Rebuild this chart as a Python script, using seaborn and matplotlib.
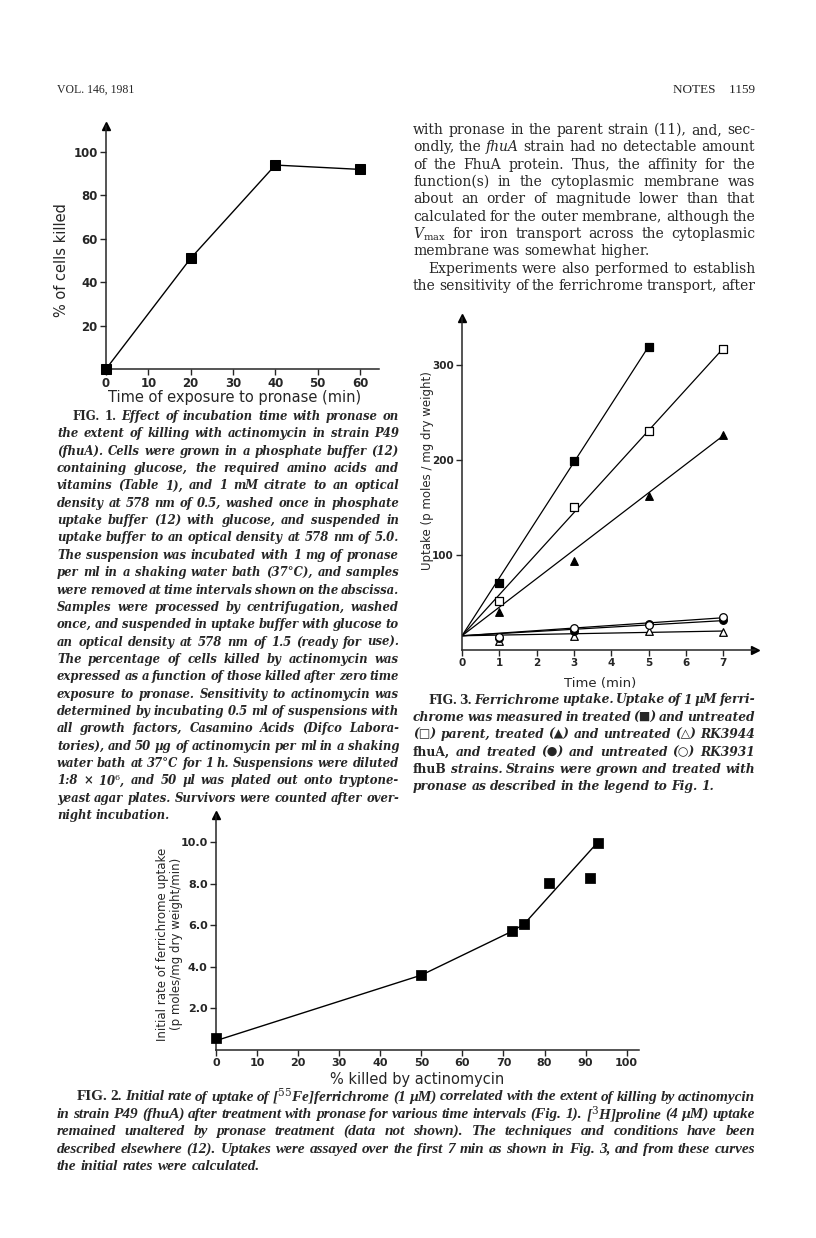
import numpy as np
import pandas as pd
import matplotlib
matplotlib.use("Agg")
import matplotlib.pyplot as plt
import seaborn as sns
from matplotlib.ticker import FormatStrFormatter

# ---- data ----
# Fig. 1
fig1_time = [0, 20, 40, 60]
fig1_killed = [0, 51, 94, 92]

# Fig. 3 (uptake, p moles/mg dry weight)
fig3_time = [1, 3, 5, 7]
parent_treated = [71, 199, 319, np.nan]
parent_untreated = [52, 151, 231, 317]
rk3944_treated = [40, 94, 162, 227]
rk3944_untreated = [10, 15, 20, 19]
rk3931_treated = [13, 20, 27, 32]
rk3931_untreated = [14, 23, 26, 35]
fit_intercept = 15
fit_end_time = [5, 7, 7, 7, 7, 7]
fit_end_value = [320, 318, 226, 20, 31, 34]

# Fig. 2
fig2_killed = [0, 50, 72, 75, 81, 91, 93]
fig2_rate = [0.6, 3.6, 5.7, 6.05, 8.05, 8.25, 9.95]
fig2_curve_x = [0, 50, 72, 75, 93]
fig2_curve_y = [0.45, 3.6, 5.7, 6.05, 10.0]

W, H = 816, 1238
LEFT_COL = (57, 399)
RIGHT_COL = (413, 755)
LINE = 17.35

sns.set_style("ticks")
plt.rcParams['font.family'] = ['DejaVu Sans']
plt.rcParams['mathtext.fontset'] = 'dejavuserif'

fig = plt.figure(figsize=(W / 100, H / 100), dpi=100)
renderer = fig.canvas.get_renderer()


def add_axes(x0, x1, y_top, y_bot):
    return fig.add_axes([x0 / W, 1 - y_bot / H, (x1 - x0) / W, (y_bot - y_top) / H])


def style_axes(ax, size, xarrow=False):
    sns.despine(ax=ax)
    ax.set_facecolor('none')
    for s in ['left', 'bottom']:
        ax.spines[s].set_linewidth(1.1)
    ax.tick_params(direction='out', length=4, width=1.0, labelsize=size, pad=2)
    plt.setp(ax.get_xticklabels() + ax.get_yticklabels(), fontweight='bold')
    # arrow heads on the axes
    ax.plot(0, 1, marker='^', color='k', markersize=6, transform=ax.get_xaxis_transform(), clip_on=False)
    if xarrow:
        ax.plot(1, 0, marker='>', color='k', markersize=6, transform=ax.get_yaxis_transform(), clip_on=False)


def text_block(lines, x0, x1, y0, dy, size, family, style='normal', weight='normal',
               roman_first=0, indent=None, ragged=()):
    """Justified block of text, one fig.text per word."""
    indent = indent or {}
    rows = []
    for i, line in enumerate(lines):
        row = []
        for j, w in enumerate(line.split(' ')):
            st = style
            if i == 0 and j < roman_first:
                st = 'normal'
            if w.startswith('*'):
                w = w[1:]
                st = 'italic' if st == 'normal' else 'normal'
            row.append(fig.text(0, 1 - (y0 + i * dy) / H, w, fontsize=size, family=family,
                                style=st, weight=weight, va='center', ha='left'))
        rows.append(row)

    def widths(row):
        return [t.get_window_extent(renderer).width for t in row]

    em = size * 100 / 72
    need = max(sum(widths(rows[i])) + 0.22 * em * (len(rows[i]) - 1) + indent.get(i, 0)
               for i in range(len(rows)) if i not in ragged)
    scale = min(1.0, (x1 - x0) / need)
    for row in rows:
        for t in row:
            t.set_fontsize(size * scale)
    em = size * scale * 100 / 72
    for i, row in enumerate(rows):
        ws = widths(row)
        start = x0 + indent.get(i, 0)
        if i in ragged or len(row) == 1:
            gap = 0.3 * em
        else:
            gap = (x1 - start - sum(ws)) / (len(row) - 1)
        x = start
        for t, w in zip(row, ws):
            t.set_x(x / W)
            x += w + gap


# ---- page header ----
fig.text(LEFT_COL[0] / W, 1 - 90 / H, "VOL. 146, 1981", family='Liberation Serif', fontsize=8.5, va='center')
fig.text(RIGHT_COL[1] / W, 1 - 90 / H, "NOTES    1159", family='Liberation Serif', fontsize=9.5,
         va='center', ha='right')

# ---- Fig. 1 ----
ax1 = add_axes(106, 379, 126, 369)
sns.lineplot(x=fig1_time, y=fig1_killed, ax=ax1, color='k', linewidth=1.0, marker='s',
             markersize=7.5, markeredgecolor='k', clip_on=False, zorder=3)
ax1.set_xlim(0, 64.5)
ax1.set_ylim(0, 112)
ax1.set_xticks(range(0, 61, 10))
ax1.set_yticks(range(20, 101, 20))
style_axes(ax1, 8.5)
ax1.set_xlabel("Time of exposure to pronase (min)", fontsize=10.5)
ax1.set_ylabel("% of cells killed", fontsize=10.5)
ax1.xaxis.set_label_coords(0.47, -0.085)
ax1.yaxis.set_label_coords(-0.135, 0.45)

# ---- Fig. 3 ----
ax3 = add_axes(462, 755, 318, 650)
fig3_series = [
    (parent_treated, 's', 'k'),
    (parent_untreated, 's', 'w'),
    (rk3944_treated, '^', 'k'),
    (rk3944_untreated, '^', 'w'),
    (rk3931_treated, 'o', 'k'),
    (rk3931_untreated, 'o', 'w'),
]
for k, (values, marker, face) in enumerate(fig3_series):
    sns.lineplot(x=[0, fit_end_time[k]], y=[fit_intercept, fit_end_value[k]], ax=ax3,
                 color='k', linewidth=0.9, zorder=2)
    df = pd.DataFrame({'time': fig3_time, 'uptake': values}).dropna()
    sns.scatterplot(data=df, x='time', y='uptake', ax=ax3, marker=marker, s=30,
                    color=face, edgecolor='k', linewidth=0.9, zorder=3, clip_on=False)
ax3.set_xlim(0, 7.85)
ax3.set_ylim(0, 350)
ax3.set_xticks(range(0, 8))
ax3.set_yticks([100, 200, 300])
style_axes(ax3, 7.5, xarrow=True)
ax3.set_xlabel("Time (min)", fontsize=9.5)
ax3.set_ylabel("Uptake (p moles / mg dry weight)", fontsize=8.5)
ax3.xaxis.set_label_coords(0.47, -0.08)
ax3.yaxis.set_label_coords(-0.096, 0.54)

# ---- Fig. 2 ----
ax2 = add_axes(216, 639, 815, 1050)
sns.lineplot(x=fig2_curve_x, y=fig2_curve_y, ax=ax2, color='k', linewidth=1.0, zorder=2)
sns.scatterplot(x=fig2_killed, y=fig2_rate, ax=ax2, marker='s', s=45, color='k',
                edgecolor='k', zorder=3, clip_on=False)
ax2.set_xlim(0, 103)
ax2.set_ylim(0, 11.3)
ax2.set_xticks(range(0, 101, 10))
ax2.set_yticks([2, 4, 6, 8, 10])
ax2.yaxis.set_major_formatter(FormatStrFormatter('%.1f'))
style_axes(ax2, 8)
ax2.set_xlabel("% killed by actinomycin", fontsize=10.5)
ax2.set_ylabel("Initial rate of ferrichrome uptake\n(p moles/mg dry weight/min)", fontsize=8.5,
               linespacing=1.1)
ax2.xaxis.set_label_coords(0.475, -0.094)
ax2.yaxis.set_label_coords(-0.078, 0.45)

# ---- text ----
serif = ['DejaVu Serif', 'DejaVu Sans']

right_col = [
    "with pronase in the parent strain (11), and, sec-",
    "ondly, the *fhuA strain had no detectable amount",
    "of the FhuA protein. Thus, the affinity for the",
    "function(s) in the cytoplasmic membrane was",
    "about an order of magnitude lower than that",
    "calculated for the outer membrane, although the",
    "$V_{\\mathrm{max}}$ for iron transport across the cytoplasmic",
    "membrane was somewhat higher.",
    "Experiments were also performed to establish",
    "the sensitivity of the ferrichrome transport, after",
]
text_block(right_col, *RIGHT_COL, 130, LINE, 10, serif, indent={8: 15}, ragged={7})

fig1_caption = [
    "FIG. 1. Effect of incubation time with pronase on",
    "the extent of killing with actinomycin in strain P49",
    "(fhuA). Cells were grown in a phosphate buffer (12)",
    "containing glucose, the required amino acids and",
    "vitamins (Table 1), and 1 mM citrate to an optical",
    "density at 578 nm of 0.5, washed once in phosphate",
    "uptake buffer (12) with glucose, and suspended in",
    "uptake buffer to an optical density at 578 nm of 5.0.",
    "The suspension was incubated with 1 mg of pronase",
    "per ml in a shaking water bath (37°C), and samples",
    "were removed at time intervals shown on the abscissa.",
    "Samples were processed by centrifugation, washed",
    "once, and suspended in uptake buffer with glucose to",
    "an optical density at 578 nm of 1.5 (ready for use).",
    "The percentage of cells killed by actinomycin was",
    "expressed as a function of those killed after zero time",
    "exposure to pronase. Sensitivity to actinomycin was",
    "determined by incubating 0.5 ml of suspensions with",
    "all growth factors, Casamino Acids (Difco Labora-",
    "tories), and 50 µg of actinomycin per ml in a shaking",
    "water bath at 37°C for 1 h. Suspensions were diluted",
    "1:8 × 10$^{6}$, and 50 µl was plated out onto tryptone-",
    "yeast agar plates. Survivors were counted after over-",
    "night incubation.",
]
text_block(fig1_caption, *LEFT_COL, 416.5, LINE, 10, serif, style='italic', weight='bold',
           roman_first=2, indent={0: 15}, ragged={23})

fig3_caption = [
    "FIG. 3. Ferrichrome uptake. Uptake of 1 µM ferri-",
    "chrome was measured in treated (■) and untreated",
    "(□) parent, treated (▲) and untreated (△) RK3944",
    "*fhuA, and treated (●) and untreated (○) RK3931",
    "*fhuB strains. Strains were grown and treated with",
    "pronase as described in the legend to Fig. 1.",
]
text_block(fig3_caption, *RIGHT_COL, 700, LINE, 10, serif, style='italic', weight='bold',
           roman_first=2, indent={0: 15}, ragged={5})

fig2_caption = [
    "FIG. 2. Initial rate of uptake of [$^{55}$Fe]ferrichrome (1 µM) correlated with the extent of killing by actinomycin",
    "in strain P49 (fhuA) after treatment with pronase for various time intervals (Fig. 1). [$^{3}$H]proline (4 µM) uptake",
    "remained unaltered by pronase treatment (data not shown). The techniques and conditions have been",
    "described elsewhere (12). Uptakes were assayed over the first 7 min as shown in Fig. 3, and from these curves",
    "the initial rates were calculated.",
]
text_block(fig2_caption, LEFT_COL[0], RIGHT_COL[1], 1097, LINE, 12, ['Liberation Serif', 'DejaVu Sans'],
           style='italic', weight='bold', roman_first=2, indent={0: 20}, ragged={4})

plt.savefig("out.png", dpi=100)
